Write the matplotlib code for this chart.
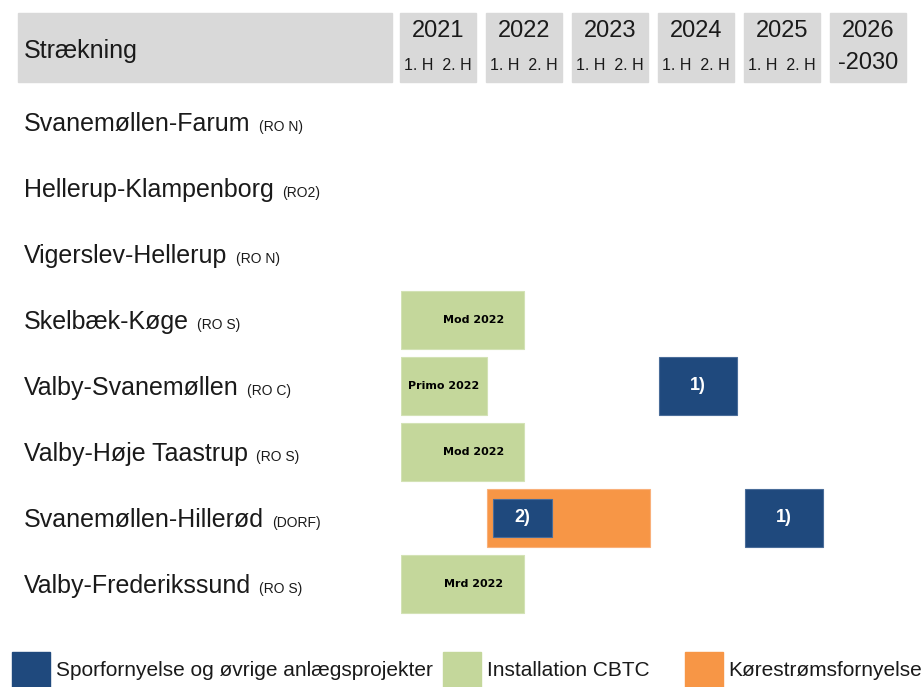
import matplotlib
matplotlib.use("Agg")
import matplotlib.pyplot as plt
from matplotlib.patches import Rectangle
import matplotlib.transforms as mtransforms

# ---------------- data ----------------
routes = ["Svanemøllen-Farum", "Hellerup-Klampenborg", "Vigerslev-Hellerup",
          "Skelbæk-Køge", "Valby-Svanemøllen", "Valby-Høje Taastrup",
          "Svanemøllen-Hillerød", "Valby-Frederikssund"]
codes = ["(RO N)", "(RO2)", "(RO N)", "(RO S)", "(RO C)", "(RO S)", "(DORF)", "(RO S)"]

year_cols = ["2021", "2022", "2023", "2024", "2025", "2026"]
year_sub = ["1. H  2. H"] * 5 + ["-2030"]

# CBTC installation (green)
cbtc_rows = [3, 4, 5, 7]
cbtc_start = [2021.0, 2021.0, 2021.0, 2021.0]
cbtc_end = [2022.43, 2022.0, 2022.43, 2022.43]
cbtc_labels = ["Mod 2022", "Primo 2022", "Mod 2022", "Mrd 2022"]
cbtc_label_x = [2021.85, 2021.5, 2021.85, 2021.84]

# Kørestrømsfornyelse (orange)
power_rows = [6]
power_start = [2022.0]
power_end = [2023.9]

# Sporfornyelse (blue)
track_rows = [4, 6]
track_start = [2024.0, 2025.0]
track_end = [2024.91, 2025.91]
track_labels = ["1)", "1)"]

# inner small blue bar
inner_rows = [6]
inner_start = [2022.07]
inner_end = [2022.76]
inner_labels = ["2)"]

legend_labels = ["Sporfornyelse og øvrige anlægsprojekter", "Installation CBTC", "Kørestrømsfornyelse"]

# ---------------- style ----------------
BLUE = "#1f497d"
GREEN = "#c4d79b"
ORANGE = "#f79646"
GRAY = "#d9d9d9"
FONT = "Liberation Sans"
plt.rcParams["font.family"] = [FONT, "DejaVu Sans"]

W, H = 921, 687
fig = plt.figure(figsize=(W / 100, H / 100), dpi=100)
ax = fig.add_axes([401 / W, 0, 516 / W, 1])
ax.set_xlim(2021, 2027)
ax.set_ylim((687 - 122) / 66, -122 / 66)
ax.axis("off")

bh = 58 / 66
ax.barh(cbtc_rows, [e - s for s, e in zip(cbtc_start, cbtc_end)], left=cbtc_start,
        height=bh, color=GREEN, edgecolor="#d3e2b5", linewidth=0.8)
ax.barh(power_rows, [e - s for s, e in zip(power_start, power_end)], left=power_start,
        height=bh, color=ORANGE, edgecolor="#f9b07a", linewidth=0.8)
ax.barh(track_rows, [e - s for s, e in zip(track_start, track_end)], left=track_start,
        height=bh, color=BLUE, edgecolor="#4a6d99", linewidth=0.8)
ax.barh(inner_rows, [e - s for s, e in zip(inner_start, inner_end)], left=inner_start,
        height=38 / 66, color=BLUE, edgecolor="#4a6d99", linewidth=0.8)

for r, x, lab in zip(cbtc_rows, cbtc_label_x, cbtc_labels):
    ax.text(x, r, lab, ha="center", va="center", fontsize=8, fontweight="bold",
            family="DejaVu Sans", color="black")
for r, s, e, lab in zip(track_rows, track_start, track_end, track_labels):
    ax.text((s + e) / 2, r, lab, ha="center", va="center", fontsize=13,
            fontweight="bold", color="white")
for r, s, e, lab in zip(inner_rows, inner_start, inner_end, inner_labels):
    ax.text((s + e) / 2, r, lab, ha="center", va="center", fontsize=13,
            fontweight="bold", color="white")

# ---------------- header ----------------
def fy(py):
    return 1 - py / H

fig.patches.append(Rectangle((18 / W, fy(82)), (392 - 18) / W, 69 / H,
                             transform=fig.transFigure, color=GRAY, zorder=0))
fig.text(24 / W, fy(58), "Strækning", fontsize=18, va="baseline", ha="left", color="#1a1a1a")

for i, (yl, sub) in enumerate(zip(year_cols, year_sub)):
    x0 = 2021 + i
    hdr_tr = mtransforms.blended_transform_factory(ax.transData, fig.transFigure)
    ax.add_patch(Rectangle((x0 - 0.01, fy(82)), 0.885, 69 / H, transform=hdr_tr,
                           color=GRAY, clip_on=False, zorder=0))
    cx = x0 + 0.43
    ax.text(cx, fy(31), yl, transform=hdr_tr, ha="center", va="center",
            fontsize=17, color="#1a1a1a")
    if sub == "-2030":
        ax.text(cx, fy(63), sub, transform=hdr_tr, ha="center", va="center",
                fontsize=17, color="#1a1a1a")
    else:
        ax.text(cx, fy(65), sub, transform=hdr_tr, ha="center", va="center",
                fontsize=11.5, color="#1a1a1a")

# ---------------- row labels ----------------
lab_tr = mtransforms.blended_transform_factory(fig.transFigure, ax.transData)
for i, (name, code) in enumerate(zip(routes, codes)):
    yb = i + 9 / 66
    t = ax.text(24 / W, yb, name, transform=lab_tr, fontsize=18, va="baseline",
                ha="left", color="#1a1a1a", clip_on=False)
    ax.annotate(code, xy=(1, yb), xycoords=(t, lab_tr), xytext=(6, 0),
                textcoords="offset points", fontsize=10, va="baseline", ha="left",
                color="#1a1a1a", annotation_clip=False)

# ---------------- legend ----------------
leg_colors = [BLUE, GREEN, ORANGE]
leg_px = [(12, 56), (443, 487), (685, 728)]
for (px, tx), c, lab in zip(leg_px, leg_colors, legend_labels):
    fig.patches.append(Rectangle((px / W, 0), 38 / W, (H - 652) / H,
                                 transform=fig.transFigure, color=c, zorder=0))
    fig.text(tx / W, fy(670), lab, fontsize=15, va="center", ha="left", color="#1a1a1a")

fig.savefig("out.png", dpi=100)
